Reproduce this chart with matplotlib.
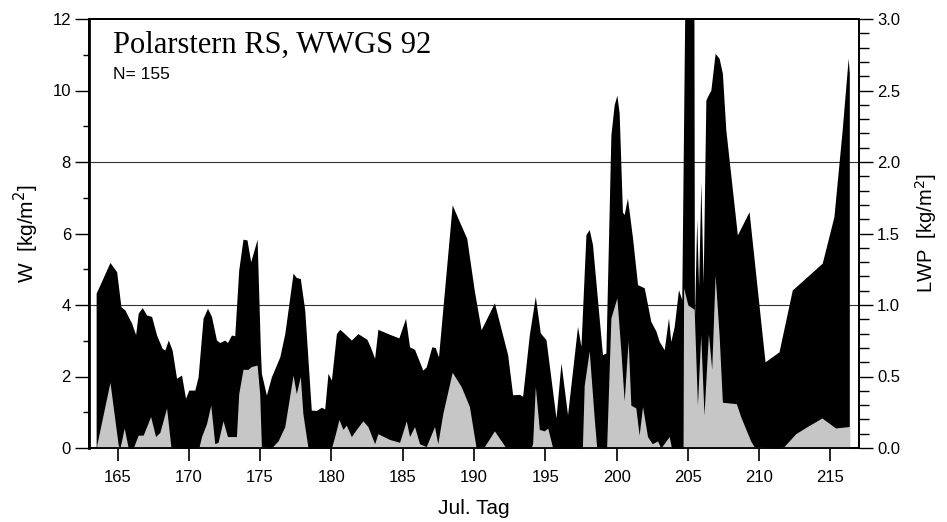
import numpy as np
import matplotlib
matplotlib.use("Agg")
import matplotlib.pyplot as plt
from matplotlib.ticker import MultipleLocator, FormatStrFormatter

plt.rcParams['font.family'] = ['Liberation Sans', 'DejaVu Sans']

# W (water vapour path), kg/m^2, left axis
w_day = [163.50, 164.47, 164.94, 165.24, 165.52, 165.99, 166.27, 166.45, 166.73,
         167.04, 167.39, 167.74, 168.13, 168.32, 168.56, 168.83, 169.14, 169.49,
         169.77, 170.00, 170.42, 170.65, 171.00, 171.31, 171.59, 171.94, 172.17,
         172.52, 172.71, 172.99, 173.22, 173.50, 173.80, 174.08, 174.34, 174.79,
         175.02, 175.09, 175.44, 175.79, 176.38, 176.73, 177.31, 177.54, 177.82,
         178.13, 178.59, 178.94, 179.30, 179.53, 179.76, 180.00, 180.35, 180.58,
         180.93, 181.40, 181.86, 182.49, 182.73, 183.03, 183.26, 183.96, 184.73,
         185.20, 185.48, 185.83, 186.41, 186.65, 187.04, 187.28, 187.51, 188.47,
         188.98, 189.49, 190.03, 190.50, 191.43, 192.36, 192.71, 193.18, 193.41,
         193.88, 194.30, 194.65, 195.05, 195.75, 196.10, 196.56, 197.26, 197.50,
         197.85, 198.08, 198.31, 199.01, 199.25, 199.60, 199.83, 200.02, 200.18,
         200.41, 200.53, 200.76, 201.12, 201.47, 201.94, 202.40, 202.76, 202.99,
         203.34, 203.64, 203.80, 204.04, 204.34, 204.57, 204.80, 205.42, 205.46,
         205.62, 205.75, 205.91, 206.07, 206.26, 206.37, 206.61, 206.91, 207.19,
         207.42, 207.66, 208.47, 209.29, 210.41, 211.39, 212.32, 214.42, 215.24,
         215.82, 216.24, 216.32]
w_val = [4.33, 5.19, 4.93, 3.95, 3.86, 3.49, 3.17, 3.77, 3.93,
         3.72, 3.68, 3.16, 2.79, 2.74, 3.02, 2.74, 1.95, 2.04,
         1.39, 1.62, 1.62, 1.99, 3.63, 3.91, 3.68, 3.02, 2.95,
         3.02, 2.95, 3.16, 3.14, 4.98, 5.84, 5.82, 5.21, 5.84,
         2.74, 2.09, 1.48, 1.99, 2.55, 3.20, 4.89, 4.77, 4.74,
         3.86, 1.06, 1.05, 1.14, 1.09, 2.09, 1.90, 3.20, 3.32,
         3.20, 3.02, 3.20, 3.04, 2.83, 2.51, 3.32, 3.20, 3.08,
         3.63, 2.83, 2.76, 2.18, 2.27, 2.83, 2.81, 2.55, 6.80,
         6.33, 5.87, 4.38, 3.31, 4.06, 2.61, 1.49, 1.50, 1.45,
         3.17, 4.24, 3.22, 3.03, 0.84, 2.38, 0.93, 3.40, 2.84,
         5.97, 6.11, 5.69, 2.61, 2.66, 8.76, 9.60, 9.87, 9.37,
         6.60, 6.53, 6.99, 5.87, 4.57, 4.48, 3.54, 3.27, 2.98,
         2.75, 3.64, 2.98, 3.40, 4.43, 4.15, 13.0, 13.0, 3.60,
         6.40, 4.50, 7.45, 4.60, 9.73, 9.83, 10.01, 11.04, 10.90,
         10.48, 8.90, 5.96, 6.61, 2.41, 2.69, 4.42, 5.17, 6.47,
         8.90, 10.90, 10.50]

# LWP (liquid water path), kg/m^2, right axis
lwp_day = [163.54, 164.47, 165.05, 165.17, 165.47, 165.75, 166.10, 166.45, 166.80,
           167.32, 167.67, 167.97, 168.44, 168.74, 169.02, 170.70, 170.89, 171.24,
           171.54, 171.82, 172.05, 172.40, 172.71, 173.34, 173.50, 173.80, 174.15,
           174.39, 174.79, 174.97, 175.09, 175.79, 176.26, 176.73, 177.31, 177.54,
           177.82, 178.00, 178.36, 180.00, 180.23, 180.53, 180.81, 181.04, 181.40,
           181.75, 182.21, 182.56, 183.03, 183.26, 184.08, 184.78, 185.25, 185.48,
           185.83, 186.18, 186.65, 187.23, 187.46, 187.81, 188.47, 189.10, 189.68,
           190.15, 190.73, 191.43, 192.25, 194.00, 194.11, 194.30, 194.58, 194.93,
           195.17, 195.52, 197.60, 197.73, 198.08, 198.43, 198.60, 199.30, 199.60,
           200.02, 200.30, 200.53, 200.81, 201.00, 201.35, 201.58, 201.82, 202.17,
           202.50, 202.87, 203.10, 203.69, 203.85, 204.66, 204.70, 205.00, 205.44,
           205.67, 205.90, 206.13, 206.44, 206.67, 206.91, 207.19, 207.42, 208.40,
           208.70, 209.40, 209.64, 211.39, 211.74, 212.56, 213.37, 214.40, 215.36,
           216.29, 216.36]
lwp_val = [0.02, 0.46, 0.02, 0.00, 0.14, 0.00, 0.00, 0.09, 0.09,
           0.22, 0.08, 0.11, 0.28, 0.01, 0.00, 0.00, 0.08, 0.17,
           0.30, 0.03, 0.04, 0.19, 0.08, 0.08, 0.38, 0.55, 0.55,
           0.57, 0.58, 0.38, 0.01, 0.00, 0.05, 0.15, 0.51, 0.38,
           0.50, 0.24, 0.00, 0.00, 0.08, 0.20, 0.13, 0.16, 0.08,
           0.13, 0.19, 0.15, 0.03, 0.10, 0.06, 0.04, 0.19, 0.08,
           0.15, 0.03, 0.01, 0.15, 0.03, 0.24, 0.53, 0.43, 0.29,
           0.00, 0.01, 0.12, 0.00, 0.00, 0.03, 0.43, 0.13, 0.12,
           0.14, 0.00, 0.00, 0.44, 0.68, 0.21, 0.01, 0.00, 0.91,
           1.05, 0.68, 0.33, 0.75, 0.30, 0.28, 0.09, 0.29, 0.08,
           0.03, 0.05, 0.00, 0.08, 0.00, 0.00, 1.12, 1.00, 0.97,
           0.30, 0.79, 0.23, 0.80, 0.55, 1.21, 0.79, 0.32, 0.31,
           0.22, 0.05, 0.01, 0.00, 0.01, 0.10, 0.15, 0.21, 0.14,
           0.15, 0.15]

fig = plt.figure(figsize=(9.47, 5.22), dpi=100)
ax = fig.add_axes([89 / 947, 74 / 522, 770 / 947, 429 / 522])

# horizontal reference lines
for yy in (4, 8):
    ax.axhline(yy, color='#333333', lw=0.8, zorder=0.5)

ax.fill_between(w_day, 0, w_val, color='black', lw=0, zorder=1)
ax.set_xlim(163, 217)
ax.set_ylim(0, 12)

ax2 = ax.twinx()
ax2.fill_between(lwp_day, 0, lwp_val, color='#c6c6c6', lw=0, zorder=2)
ax2.set_ylim(0, 3)

# ticks
ax.set_xticks(np.arange(165, 216, 5))
ax.yaxis.set_major_locator(MultipleLocator(2))
ax.yaxis.set_minor_locator(MultipleLocator(1))
ax2.yaxis.set_major_locator(MultipleLocator(0.5))
ax2.yaxis.set_minor_locator(MultipleLocator(0.1))
ax2.yaxis.set_major_formatter(FormatStrFormatter('%.1f'))

ax.tick_params(axis='x', which='major', direction='out', length=9, width=1.2,
               pad=7, labelsize=12)
ax.tick_params(axis='y', which='major', direction='out', length=10, width=1.0,
               pad=3, labelsize=12)
ax.tick_params(axis='y', which='minor', direction='out', length=4.5, width=1.0)
ax.tick_params(top=False, right=False)
ax2.tick_params(axis='y', which='major', direction='out', length=10, width=1.0,
                pad=3, labelsize=12)
ax2.tick_params(axis='y', which='minor', direction='out', length=7, width=1.0)

for a in (ax, ax2):
    for s in a.spines.values():
        s.set_linewidth(1.3)
        s.set_color('black')
ax.spines['left'].set_linewidth(2.0)

ax.set_xlabel('Jul. Tag', fontsize=15, labelpad=10)
ax.set_ylabel('W  [kg/m$^2$]', fontsize=15, labelpad=8)
ax2.set_ylabel('LWP  [kg/m$^2$]', fontsize=14.5, labelpad=9)

ax.text(0.031, 0.921, 'Polarstern RS, WWGS 92', transform=ax.transAxes,
        family=['Liberation Serif', 'DejaVu Serif'], fontsize=22,
        va='baseline', ha='left')
ax.text(0.031, 0.859, 'N= 155', transform=ax.transAxes, fontsize=12.5,
        va='baseline', ha='left')

fig.savefig('out.png', dpi=100)
